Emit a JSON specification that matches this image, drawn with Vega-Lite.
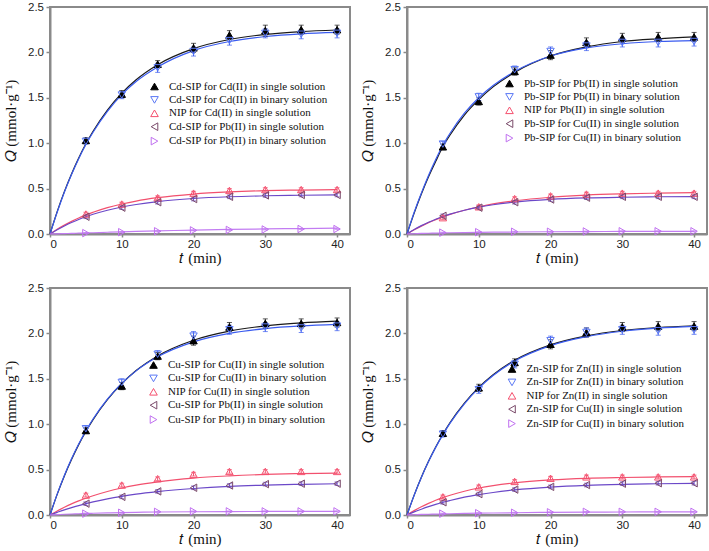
{
"$schema": "https://vega.github.io/schema/vega-lite/v6.json",
"padding": {"left": 2, "top": 0, "right": 2, "bottom": 2},
"background": "white",
"config": {
 "view": {"stroke": "#8a8a8a", "strokeWidth": 2},
 "axis": {"grid": false, "domainColor": "#8a8a8a", "domainWidth": 2, "tickColor": "#8a8a8a", "tickWidth": 1.5, "labelFont": "Liberation Sans", "labelFontSize": 11.5, "labelColor": "#222222", "titleFont": "Liberation Serif", "titleFontSize": 15, "titleFontWeight": "normal", "titleColor": "#111111"},
 "axisX": {"tickSize": 3, "labelPadding": 1.5, "titlePadding": 0},
 "axisY": {"tickSize": 4, "labelPadding": 2.5, "titlePadding": 9},
 "legend": {"padding": 0, "labelFont": "Liberation Serif", "labelFontSize": 11, "labelColor": "#111111", "labelLimit": 0, "rowPadding": 1.4, "symbolSize": 58, "symbolStrokeWidth": 1, "labelOffset": 9}
},
"datasets": {
 "pts": [
  {"p":1,"s":1,"t":5,"q":1.03,"e":0.03},{"p":1,"s":1,"t":10,"q":1.54,"e":0.04},{"p":1,"s":1,"t":15,"q":1.87,"e":0.04},{"p":1,"s":1,"t":20,"q":2.05,"e":0.05},{"p":1,"s":1,"t":25,"q":2.19,"e":0.05},{"p":1,"s":1,"t":30,"q":2.24,"e":0.06},{"p":1,"s":1,"t":35,"q":2.25,"e":0.05},{"p":1,"s":1,"t":40,"q":2.25,"e":0.05},
  {"p":1,"s":2,"t":5,"q":1.02,"e":0.03},{"p":1,"s":2,"t":10,"q":1.53,"e":0.04},{"p":1,"s":2,"t":15,"q":1.83,"e":0.05},{"p":1,"s":2,"t":20,"q":2.01,"e":0.05},{"p":1,"s":2,"t":25,"q":2.13,"e":0.05},{"p":1,"s":2,"t":30,"q":2.21,"e":0.05},{"p":1,"s":2,"t":35,"q":2.2,"e":0.05},{"p":1,"s":2,"t":40,"q":2.21,"e":0.05},
  {"p":1,"s":3,"t":5,"q":0.22,"e":0.02},{"p":1,"s":3,"t":10,"q":0.33,"e":0.02},{"p":1,"s":3,"t":15,"q":0.4,"e":0.02},{"p":1,"s":3,"t":20,"q":0.45,"e":0.02},{"p":1,"s":3,"t":25,"q":0.48,"e":0.02},{"p":1,"s":3,"t":30,"q":0.49,"e":0.02},{"p":1,"s":3,"t":35,"q":0.49,"e":0.02},{"p":1,"s":3,"t":40,"q":0.49,"e":0.02},
  {"p":1,"s":4,"t":5,"q":0.19,"e":0.02},{"p":1,"s":4,"t":10,"q":0.29,"e":0.02},{"p":1,"s":4,"t":15,"q":0.35,"e":0.02},{"p":1,"s":4,"t":20,"q":0.385,"e":0.02},{"p":1,"s":4,"t":25,"q":0.41,"e":0.02},{"p":1,"s":4,"t":30,"q":0.425,"e":0.02},{"p":1,"s":4,"t":35,"q":0.43,"e":0.02},{"p":1,"s":4,"t":40,"q":0.43,"e":0.02},
  {"p":1,"s":5,"t":5,"q":0.01,"e":0.005},{"p":1,"s":5,"t":10,"q":0.02,"e":0.005},{"p":1,"s":5,"t":15,"q":0.03,"e":0.005},{"p":1,"s":5,"t":20,"q":0.04,"e":0.005},{"p":1,"s":5,"t":25,"q":0.045,"e":0.005},{"p":1,"s":5,"t":30,"q":0.05,"e":0.005},{"p":1,"s":5,"t":35,"q":0.055,"e":0.005},{"p":1,"s":5,"t":40,"q":0.055,"e":0.005},
  {"p":2,"s":1,"t":5,"q":0.96,"e":0.03},{"p":2,"s":1,"t":10,"q":1.46,"e":0.04},{"p":2,"s":1,"t":15,"q":1.79,"e":0.04},{"p":2,"s":1,"t":20,"q":1.97,"e":0.05},{"p":2,"s":1,"t":25,"q":2.11,"e":0.05},{"p":2,"s":1,"t":30,"q":2.16,"e":0.05},{"p":2,"s":1,"t":35,"q":2.17,"e":0.05},{"p":2,"s":1,"t":40,"q":2.17,"e":0.05},
  {"p":2,"s":2,"t":5,"q":0.99,"e":0.03},{"p":2,"s":2,"t":10,"q":1.51,"e":0.04},{"p":2,"s":2,"t":15,"q":1.81,"e":0.04},{"p":2,"s":2,"t":20,"q":2.01,"e":0.05},{"p":2,"s":2,"t":25,"q":2.07,"e":0.05},{"p":2,"s":2,"t":30,"q":2.11,"e":0.05},{"p":2,"s":2,"t":35,"q":2.11,"e":0.05},{"p":2,"s":2,"t":40,"q":2.12,"e":0.05},
  {"p":2,"s":3,"t":5,"q":0.18,"e":0.02},{"p":2,"s":3,"t":10,"q":0.3,"e":0.02},{"p":2,"s":3,"t":15,"q":0.39,"e":0.02},{"p":2,"s":3,"t":20,"q":0.42,"e":0.02},{"p":2,"s":3,"t":25,"q":0.44,"e":0.02},{"p":2,"s":3,"t":30,"q":0.45,"e":0.02},{"p":2,"s":3,"t":35,"q":0.45,"e":0.02},{"p":2,"s":3,"t":40,"q":0.45,"e":0.02},
  {"p":2,"s":4,"t":5,"q":0.2,"e":0.02},{"p":2,"s":4,"t":10,"q":0.29,"e":0.02},{"p":2,"s":4,"t":15,"q":0.35,"e":0.02},{"p":2,"s":4,"t":20,"q":0.38,"e":0.02},{"p":2,"s":4,"t":25,"q":0.4,"e":0.02},{"p":2,"s":4,"t":30,"q":0.41,"e":0.02},{"p":2,"s":4,"t":35,"q":0.41,"e":0.02},{"p":2,"s":4,"t":40,"q":0.41,"e":0.02},
  {"p":2,"s":5,"t":5,"q":0.015,"e":0.005},{"p":2,"s":5,"t":10,"q":0.02,"e":0.005},{"p":2,"s":5,"t":15,"q":0.025,"e":0.005},{"p":2,"s":5,"t":20,"q":0.025,"e":0.005},{"p":2,"s":5,"t":25,"q":0.028,"e":0.005},{"p":2,"s":5,"t":30,"q":0.03,"e":0.005},{"p":2,"s":5,"t":35,"q":0.03,"e":0.005},{"p":2,"s":5,"t":40,"q":0.03,"e":0.005},
  {"p":3,"s":1,"t":5,"q":0.93,"e":0.03},{"p":3,"s":1,"t":10,"q":1.42,"e":0.04},{"p":3,"s":1,"t":15,"q":1.75,"e":0.04},{"p":3,"s":1,"t":20,"q":1.92,"e":0.05},{"p":3,"s":1,"t":25,"q":2.07,"e":0.05},{"p":3,"s":1,"t":30,"q":2.11,"e":0.05},{"p":3,"s":1,"t":35,"q":2.11,"e":0.05},{"p":3,"s":1,"t":40,"q":2.12,"e":0.05},
  {"p":3,"s":2,"t":5,"q":0.95,"e":0.03},{"p":3,"s":2,"t":10,"q":1.46,"e":0.04},{"p":3,"s":2,"t":15,"q":1.77,"e":0.04},{"p":3,"s":2,"t":20,"q":1.97,"e":0.05},{"p":3,"s":2,"t":25,"q":2.04,"e":0.05},{"p":3,"s":2,"t":30,"q":2.07,"e":0.05},{"p":3,"s":2,"t":35,"q":2.06,"e":0.05},{"p":3,"s":2,"t":40,"q":2.08,"e":0.05},
  {"p":3,"s":3,"t":5,"q":0.22,"e":0.02},{"p":3,"s":3,"t":10,"q":0.33,"e":0.02},{"p":3,"s":3,"t":15,"q":0.4,"e":0.02},{"p":3,"s":3,"t":20,"q":0.45,"e":0.02},{"p":3,"s":3,"t":25,"q":0.48,"e":0.02},{"p":3,"s":3,"t":30,"q":0.48,"e":0.02},{"p":3,"s":3,"t":35,"q":0.48,"e":0.02},{"p":3,"s":3,"t":40,"q":0.48,"e":0.02},
  {"p":3,"s":4,"t":5,"q":0.125,"e":0.02},{"p":3,"s":4,"t":10,"q":0.2,"e":0.02},{"p":3,"s":4,"t":15,"q":0.26,"e":0.02},{"p":3,"s":4,"t":20,"q":0.3,"e":0.02},{"p":3,"s":4,"t":25,"q":0.325,"e":0.02},{"p":3,"s":4,"t":30,"q":0.34,"e":0.02},{"p":3,"s":4,"t":35,"q":0.345,"e":0.02},{"p":3,"s":4,"t":40,"q":0.345,"e":0.02},
  {"p":3,"s":5,"t":5,"q":0.015,"e":0.005},{"p":3,"s":5,"t":10,"q":0.025,"e":0.005},{"p":3,"s":5,"t":15,"q":0.035,"e":0.005},{"p":3,"s":5,"t":20,"q":0.04,"e":0.005},{"p":3,"s":5,"t":25,"q":0.04,"e":0.005},{"p":3,"s":5,"t":30,"q":0.04,"e":0.005},{"p":3,"s":5,"t":35,"q":0.04,"e":0.005},{"p":3,"s":5,"t":40,"q":0.04,"e":0.005},
  {"p":4,"s":1,"t":5,"q":0.9,"e":0.03},{"p":4,"s":1,"t":10,"q":1.4,"e":0.04},{"p":4,"s":1,"t":15,"q":1.68,"e":0.04},{"p":4,"s":1,"t":20,"q":1.88,"e":0.05},{"p":4,"s":1,"t":25,"q":2.01,"e":0.05},{"p":4,"s":1,"t":30,"q":2.07,"e":0.05},{"p":4,"s":1,"t":35,"q":2.08,"e":0.05},{"p":4,"s":1,"t":40,"q":2.08,"e":0.05},
  {"p":4,"s":2,"t":5,"q":0.89,"e":0.03},{"p":4,"s":2,"t":10,"q":1.38,"e":0.04},{"p":4,"s":2,"t":15,"q":1.66,"e":0.04},{"p":4,"s":2,"t":20,"q":1.92,"e":0.05},{"p":4,"s":2,"t":25,"q":2.01,"e":0.05},{"p":4,"s":2,"t":30,"q":2.04,"e":0.05},{"p":4,"s":2,"t":35,"q":2.03,"e":0.05},{"p":4,"s":2,"t":40,"q":2.04,"e":0.05},
  {"p":4,"s":3,"t":5,"q":0.2,"e":0.02},{"p":4,"s":3,"t":10,"q":0.31,"e":0.02},{"p":4,"s":3,"t":15,"q":0.37,"e":0.02},{"p":4,"s":3,"t":20,"q":0.405,"e":0.02},{"p":4,"s":3,"t":25,"q":0.42,"e":0.02},{"p":4,"s":3,"t":30,"q":0.42,"e":0.02},{"p":4,"s":3,"t":35,"q":0.42,"e":0.02},{"p":4,"s":3,"t":40,"q":0.42,"e":0.02},
  {"p":4,"s":4,"t":5,"q":0.14,"e":0.02},{"p":4,"s":4,"t":10,"q":0.23,"e":0.02},{"p":4,"s":4,"t":15,"q":0.28,"e":0.02},{"p":4,"s":4,"t":20,"q":0.31,"e":0.02},{"p":4,"s":4,"t":25,"q":0.33,"e":0.02},{"p":4,"s":4,"t":30,"q":0.345,"e":0.02},{"p":4,"s":4,"t":35,"q":0.35,"e":0.02},{"p":4,"s":4,"t":40,"q":0.35,"e":0.02},
  {"p":4,"s":5,"t":5,"q":0.015,"e":0.005},{"p":4,"s":5,"t":10,"q":0.02,"e":0.005},{"p":4,"s":5,"t":15,"q":0.025,"e":0.005},{"p":4,"s":5,"t":20,"q":0.03,"e":0.005},{"p":4,"s":5,"t":25,"q":0.035,"e":0.005},{"p":4,"s":5,"t":30,"q":0.035,"e":0.005},{"p":4,"s":5,"t":35,"q":0.035,"e":0.005},{"p":4,"s":5,"t":40,"q":0.035,"e":0.005}
 ],
 "fit": [
  {"p":1,"s":1,"t":0,"q":0},{"p":1,"s":1,"t":1,"q":0.247},{"p":1,"s":1,"t":2,"q":0.467},{"p":1,"s":1,"t":3,"q":0.662},{"p":1,"s":1,"t":4,"q":0.837},{"p":1,"s":1,"t":5,"q":0.993},{"p":1,"s":1,"t":6,"q":1.131},{"p":1,"s":1,"t":8,"q":1.365},{"p":1,"s":1,"t":10,"q":1.551},{"p":1,"s":1,"t":12,"q":1.699},{"p":1,"s":1,"t":15,"q":1.865},{"p":1,"s":1,"t":20,"q":2.042},{"p":1,"s":1,"t":25,"q":2.142},{"p":1,"s":1,"t":30,"q":2.198},{"p":1,"s":1,"t":35,"q":2.229},{"p":1,"s":1,"t":40,"q":2.247},
  {"p":1,"s":2,"t":0,"q":0},{"p":1,"s":2,"t":1,"q":0.24},{"p":1,"s":2,"t":2,"q":0.46},{"p":1,"s":2,"t":3,"q":0.655},{"p":1,"s":2,"t":4,"q":0.83},{"p":1,"s":2,"t":5,"q":0.985},{"p":1,"s":2,"t":6,"q":1.12},{"p":1,"s":2,"t":8,"q":1.35},{"p":1,"s":2,"t":10,"q":1.535},{"p":1,"s":2,"t":12,"q":1.68},{"p":1,"s":2,"t":15,"q":1.84},{"p":1,"s":2,"t":20,"q":2.02},{"p":1,"s":2,"t":25,"q":2.12},{"p":1,"s":2,"t":30,"q":2.175},{"p":1,"s":2,"t":35,"q":2.205},{"p":1,"s":2,"t":40,"q":2.22},
  {"p":1,"s":3,"t":0,"q":0},{"p":1,"s":3,"t":1,"q":0.052},{"p":1,"s":3,"t":2,"q":0.098},{"p":1,"s":3,"t":3,"q":0.139},{"p":1,"s":3,"t":4,"q":0.176},{"p":1,"s":3,"t":5,"q":0.21},{"p":1,"s":3,"t":6,"q":0.239},{"p":1,"s":3,"t":8,"q":0.29},{"p":1,"s":3,"t":10,"q":0.33},{"p":1,"s":3,"t":12,"q":0.363},{"p":1,"s":3,"t":15,"q":0.4},{"p":1,"s":3,"t":20,"q":0.44},{"p":1,"s":3,"t":25,"q":0.463},{"p":1,"s":3,"t":30,"q":0.477},{"p":1,"s":3,"t":35,"q":0.484},{"p":1,"s":3,"t":40,"q":0.489},
  {"p":1,"s":4,"t":0,"q":0},{"p":1,"s":4,"t":1,"q":0.047},{"p":1,"s":4,"t":2,"q":0.089},{"p":1,"s":4,"t":3,"q":0.127},{"p":1,"s":4,"t":4,"q":0.16},{"p":1,"s":4,"t":5,"q":0.19},{"p":1,"s":4,"t":6,"q":0.217},{"p":1,"s":4,"t":8,"q":0.262},{"p":1,"s":4,"t":10,"q":0.297},{"p":1,"s":4,"t":12,"q":0.325},{"p":1,"s":4,"t":15,"q":0.357},{"p":1,"s":4,"t":20,"q":0.391},{"p":1,"s":4,"t":25,"q":0.41},{"p":1,"s":4,"t":30,"q":0.421},{"p":1,"s":4,"t":35,"q":0.427},{"p":1,"s":4,"t":40,"q":0.431},
  {"p":1,"s":5,"t":0,"q":0},{"p":1,"s":5,"t":1,"q":0.002},{"p":1,"s":5,"t":2,"q":0.004},{"p":1,"s":5,"t":3,"q":0.007},{"p":1,"s":5,"t":4,"q":0.009},{"p":1,"s":5,"t":5,"q":0.012},{"p":1,"s":5,"t":6,"q":0.014},{"p":1,"s":5,"t":8,"q":0.019},{"p":1,"s":5,"t":10,"q":0.024},{"p":1,"s":5,"t":12,"q":0.028},{"p":1,"s":5,"t":15,"q":0.034},{"p":1,"s":5,"t":20,"q":0.043},{"p":1,"s":5,"t":25,"q":0.05},{"p":1,"s":5,"t":30,"q":0.056},{"p":1,"s":5,"t":35,"q":0.06},{"p":1,"s":5,"t":40,"q":0.064},
  {"p":2,"s":1,"t":0,"q":0},{"p":2,"s":1,"t":1,"q":0.23},{"p":2,"s":1,"t":2,"q":0.44},{"p":2,"s":1,"t":3,"q":0.63},{"p":2,"s":1,"t":4,"q":0.8},{"p":2,"s":1,"t":5,"q":0.96},{"p":2,"s":1,"t":6,"q":1.09},{"p":2,"s":1,"t":8,"q":1.31},{"p":2,"s":1,"t":10,"q":1.48},{"p":2,"s":1,"t":12,"q":1.62},{"p":2,"s":1,"t":15,"q":1.78},{"p":2,"s":1,"t":20,"q":1.96},{"p":2,"s":1,"t":25,"q":2.06},{"p":2,"s":1,"t":30,"q":2.12},{"p":2,"s":1,"t":35,"q":2.15},{"p":2,"s":1,"t":40,"q":2.17},
  {"p":2,"s":2,"t":0,"q":0},{"p":2,"s":2,"t":1,"q":0.24},{"p":2,"s":2,"t":2,"q":0.45},{"p":2,"s":2,"t":3,"q":0.645},{"p":2,"s":2,"t":4,"q":0.82},{"p":2,"s":2,"t":5,"q":0.98},{"p":2,"s":2,"t":6,"q":1.11},{"p":2,"s":2,"t":8,"q":1.33},{"p":2,"s":2,"t":10,"q":1.5},{"p":2,"s":2,"t":12,"q":1.635},{"p":2,"s":2,"t":15,"q":1.79},{"p":2,"s":2,"t":20,"q":1.96},{"p":2,"s":2,"t":25,"q":2.05},{"p":2,"s":2,"t":30,"q":2.095},{"p":2,"s":2,"t":35,"q":2.12},{"p":2,"s":2,"t":40,"q":2.13},
  {"p":2,"s":3,"t":0,"q":0},{"p":2,"s":3,"t":1,"q":0.046},{"p":2,"s":3,"t":2,"q":0.087},{"p":2,"s":3,"t":3,"q":0.125},{"p":2,"s":3,"t":4,"q":0.158},{"p":2,"s":3,"t":5,"q":0.189},{"p":2,"s":3,"t":6,"q":0.216},{"p":2,"s":3,"t":8,"q":0.262},{"p":2,"s":3,"t":10,"q":0.3},{"p":2,"s":3,"t":12,"q":0.331},{"p":2,"s":3,"t":15,"q":0.366},{"p":2,"s":3,"t":20,"q":0.405},{"p":2,"s":3,"t":25,"q":0.429},{"p":2,"s":3,"t":30,"q":0.442},{"p":2,"s":3,"t":35,"q":0.45},{"p":2,"s":3,"t":40,"q":0.455},
  {"p":2,"s":4,"t":0,"q":0},{"p":2,"s":4,"t":1,"q":0.049},{"p":2,"s":4,"t":2,"q":0.092},{"p":2,"s":4,"t":3,"q":0.13},{"p":2,"s":4,"t":4,"q":0.163},{"p":2,"s":4,"t":5,"q":0.193},{"p":2,"s":4,"t":6,"q":0.219},{"p":2,"s":4,"t":8,"q":0.262},{"p":2,"s":4,"t":10,"q":0.296},{"p":2,"s":4,"t":12,"q":0.322},{"p":2,"s":4,"t":15,"q":0.351},{"p":2,"s":4,"t":20,"q":0.381},{"p":2,"s":4,"t":25,"q":0.397},{"p":2,"s":4,"t":30,"q":0.405},{"p":2,"s":4,"t":35,"q":0.41},{"p":2,"s":4,"t":40,"q":0.412},
  {"p":2,"s":5,"t":0,"q":0},{"p":2,"s":5,"t":1,"q":0.003},{"p":2,"s":5,"t":2,"q":0.006},{"p":2,"s":5,"t":3,"q":0.008},{"p":2,"s":5,"t":4,"q":0.01},{"p":2,"s":5,"t":5,"q":0.012},{"p":2,"s":5,"t":6,"q":0.014},{"p":2,"s":5,"t":8,"q":0.016},{"p":2,"s":5,"t":10,"q":0.018},{"p":2,"s":5,"t":12,"q":0.02},{"p":2,"s":5,"t":15,"q":0.022},{"p":2,"s":5,"t":20,"q":0.025},{"p":2,"s":5,"t":25,"q":0.027},{"p":2,"s":5,"t":30,"q":0.028},{"p":2,"s":5,"t":35,"q":0.029},{"p":2,"s":5,"t":40,"q":0.03},
  {"p":3,"s":1,"t":0,"q":0},{"p":3,"s":1,"t":1,"q":0.227},{"p":3,"s":1,"t":2,"q":0.43},{"p":3,"s":1,"t":3,"q":0.611},{"p":3,"s":1,"t":4,"q":0.775},{"p":3,"s":1,"t":5,"q":0.92},{"p":3,"s":1,"t":6,"q":1.05},{"p":3,"s":1,"t":8,"q":1.271},{"p":3,"s":1,"t":10,"q":1.448},{"p":3,"s":1,"t":12,"q":1.591},{"p":3,"s":1,"t":15,"q":1.752},{"p":3,"s":1,"t":20,"q":1.925},{"p":3,"s":1,"t":25,"q":2.025},{"p":3,"s":1,"t":30,"q":2.083},{"p":3,"s":1,"t":35,"q":2.116},{"p":3,"s":1,"t":40,"q":2.135},
  {"p":3,"s":2,"t":0,"q":0},{"p":3,"s":2,"t":1,"q":0.23},{"p":3,"s":2,"t":2,"q":0.436},{"p":3,"s":2,"t":3,"q":0.619},{"p":3,"s":2,"t":4,"q":0.782},{"p":3,"s":2,"t":5,"q":0.927},{"p":3,"s":2,"t":6,"q":1.057},{"p":3,"s":2,"t":8,"q":1.275},{"p":3,"s":2,"t":10,"q":1.449},{"p":3,"s":2,"t":12,"q":1.587},{"p":3,"s":2,"t":15,"q":1.742},{"p":3,"s":2,"t":20,"q":1.907},{"p":3,"s":2,"t":25,"q":2.0},{"p":3,"s":2,"t":30,"q":2.053},{"p":3,"s":2,"t":35,"q":2.082},{"p":3,"s":2,"t":40,"q":2.099},
  {"p":3,"s":3,"t":0,"q":0},{"p":3,"s":3,"t":1,"q":0.045},{"p":3,"s":3,"t":2,"q":0.085},{"p":3,"s":3,"t":3,"q":0.122},{"p":3,"s":3,"t":4,"q":0.155},{"p":3,"s":3,"t":5,"q":0.185},{"p":3,"s":3,"t":6,"q":0.212},{"p":3,"s":3,"t":8,"q":0.259},{"p":3,"s":3,"t":10,"q":0.297},{"p":3,"s":3,"t":12,"q":0.329},{"p":3,"s":3,"t":15,"q":0.365},{"p":3,"s":3,"t":20,"q":0.407},{"p":3,"s":3,"t":25,"q":0.431},{"p":3,"s":3,"t":30,"q":0.447},{"p":3,"s":3,"t":35,"q":0.456},{"p":3,"s":3,"t":40,"q":0.461},
  {"p":3,"s":4,"t":0,"q":0},{"p":3,"s":4,"t":1,"q":0.029},{"p":3,"s":4,"t":2,"q":0.057},{"p":3,"s":4,"t":3,"q":0.081},{"p":3,"s":4,"t":4,"q":0.104},{"p":3,"s":4,"t":5,"q":0.125},{"p":3,"s":4,"t":6,"q":0.144},{"p":3,"s":4,"t":8,"q":0.178},{"p":3,"s":4,"t":10,"q":0.206},{"p":3,"s":4,"t":12,"q":0.23},{"p":3,"s":4,"t":15,"q":0.258},{"p":3,"s":4,"t":20,"q":0.292},{"p":3,"s":4,"t":25,"q":0.315},{"p":3,"s":4,"t":30,"q":0.329},{"p":3,"s":4,"t":35,"q":0.338},{"p":3,"s":4,"t":40,"q":0.344},
  {"p":3,"s":5,"t":0,"q":0},{"p":3,"s":5,"t":1,"q":0.004},{"p":3,"s":5,"t":2,"q":0.008},{"p":3,"s":5,"t":3,"q":0.011},{"p":3,"s":5,"t":4,"q":0.014},{"p":3,"s":5,"t":5,"q":0.017},{"p":3,"s":5,"t":6,"q":0.019},{"p":3,"s":5,"t":8,"q":0.023},{"p":3,"s":5,"t":10,"q":0.027},{"p":3,"s":5,"t":12,"q":0.03},{"p":3,"s":5,"t":15,"q":0.033},{"p":3,"s":5,"t":20,"q":0.036},{"p":3,"s":5,"t":25,"q":0.038},{"p":3,"s":5,"t":30,"q":0.039},{"p":3,"s":5,"t":35,"q":0.04},{"p":3,"s":5,"t":40,"q":0.04},
  {"p":4,"s":1,"t":0,"q":0},{"p":4,"s":1,"t":1,"q":0.219},{"p":4,"s":1,"t":2,"q":0.416},{"p":4,"s":1,"t":3,"q":0.591},{"p":4,"s":1,"t":4,"q":0.749},{"p":4,"s":1,"t":5,"q":0.89},{"p":4,"s":1,"t":6,"q":1.017},{"p":4,"s":1,"t":8,"q":1.232},{"p":4,"s":1,"t":10,"q":1.405},{"p":4,"s":1,"t":12,"q":1.544},{"p":4,"s":1,"t":15,"q":1.704},{"p":4,"s":1,"t":20,"q":1.874},{"p":4,"s":1,"t":25,"q":1.973},{"p":4,"s":1,"t":30,"q":2.032},{"p":4,"s":1,"t":35,"q":2.065},{"p":4,"s":1,"t":40,"q":2.084},
  {"p":4,"s":2,"t":0,"q":0},{"p":4,"s":2,"t":1,"q":0.218},{"p":4,"s":2,"t":2,"q":0.413},{"p":4,"s":2,"t":3,"q":0.588},{"p":4,"s":2,"t":4,"q":0.745},{"p":4,"s":2,"t":5,"q":0.885},{"p":4,"s":2,"t":6,"q":1.011},{"p":4,"s":2,"t":8,"q":1.225},{"p":4,"s":2,"t":10,"q":1.397},{"p":4,"s":2,"t":12,"q":1.536},{"p":4,"s":2,"t":15,"q":1.696},{"p":4,"s":2,"t":20,"q":1.866},{"p":4,"s":2,"t":25,"q":1.965},{"p":4,"s":2,"t":30,"q":2.024},{"p":4,"s":2,"t":35,"q":2.058},{"p":4,"s":2,"t":40,"q":2.077},
  {"p":4,"s":3,"t":0,"q":0},{"p":4,"s":3,"t":1,"q":0.048},{"p":4,"s":3,"t":2,"q":0.091},{"p":4,"s":3,"t":3,"q":0.128},{"p":4,"s":3,"t":4,"q":0.162},{"p":4,"s":3,"t":5,"q":0.192},{"p":4,"s":3,"t":6,"q":0.218},{"p":4,"s":3,"t":8,"q":0.262},{"p":4,"s":3,"t":10,"q":0.297},{"p":4,"s":3,"t":12,"q":0.324},{"p":4,"s":3,"t":15,"q":0.355},{"p":4,"s":3,"t":20,"q":0.386},{"p":4,"s":3,"t":25,"q":0.404},{"p":4,"s":3,"t":30,"q":0.413},{"p":4,"s":3,"t":35,"q":0.419},{"p":4,"s":3,"t":40,"q":0.422},
  {"p":4,"s":4,"t":0,"q":0},{"p":4,"s":4,"t":1,"q":0.034},{"p":4,"s":4,"t":2,"q":0.064},{"p":4,"s":4,"t":3,"q":0.092},{"p":4,"s":4,"t":4,"q":0.117},{"p":4,"s":4,"t":5,"q":0.14},{"p":4,"s":4,"t":6,"q":0.16},{"p":4,"s":4,"t":8,"q":0.196},{"p":4,"s":4,"t":10,"q":0.224},{"p":4,"s":4,"t":12,"q":0.248},{"p":4,"s":4,"t":15,"q":0.276},{"p":4,"s":4,"t":20,"q":0.307},{"p":4,"s":4,"t":25,"q":0.326},{"p":4,"s":4,"t":30,"q":0.337},{"p":4,"s":4,"t":35,"q":0.344},{"p":4,"s":4,"t":40,"q":0.349},
  {"p":4,"s":5,"t":0,"q":0},{"p":4,"s":5,"t":1,"q":0.003},{"p":4,"s":5,"t":2,"q":0.006},{"p":4,"s":5,"t":3,"q":0.008},{"p":4,"s":5,"t":4,"q":0.01},{"p":4,"s":5,"t":5,"q":0.012},{"p":4,"s":5,"t":6,"q":0.014},{"p":4,"s":5,"t":8,"q":0.017},{"p":4,"s":5,"t":10,"q":0.02},{"p":4,"s":5,"t":12,"q":0.022},{"p":4,"s":5,"t":15,"q":0.025},{"p":4,"s":5,"t":20,"q":0.029},{"p":4,"s":5,"t":25,"q":0.031},{"p":4,"s":5,"t":30,"q":0.033},{"p":4,"s":5,"t":35,"q":0.034},{"p":4,"s":5,"t":40,"q":0.035}
 ]
},
"columns": 2,
"spacing": {"row": 54, "column": 57},
"bounds": "flush",
"resolve": {"scale": {"color": "independent", "stroke": "independent", "fill": "independent", "shape": "independent"}, "legend": {"color": "independent", "stroke": "independent", "fill": "independent", "shape": "independent"}},
"concat": [
 {"width": 300, "height": 227,
  "encoding": {
   "x": {"field": "t", "type": "quantitative", "scale": {"domain": [0, 41.8], "nice": false, "zero": false}, "axis": {"values": [0,10,20,30,40], "title": "𝑡 (min)"}},
   "y": {"field": "q", "type": "quantitative", "scale": {"domain": [0, 2.5], "nice": false}, "axis": {"values": [0,0.5,1,1.5,2,2.5], "format": ".1f", "title": "𝑄 (mmol·g⁻¹)"}}
  },
  "layer": [
   {"data": {"name": "fit"}, "transform": [{"filter": "datum.p == 1"}], "mark": {"type": "line", "interpolate": "monotone", "strokeWidth": 1.2}, "encoding": {"color": {"field": "s", "type": "nominal", "scale": {"range": ["#1a1a1a","#3a5bef","#f2506e","#6b48c8","#c27cf2"]}, "legend": null}}},
   {"data": {"name": "pts"}, "transform": [{"filter": "datum.p == 1"}], "mark": {"type": "errorbar", "ticks": true, "thickness": 1}, "encoding": {"yError": {"field": "e"}, "color": {"field": "s", "type": "nominal", "scale": {"range": ["#1a1a1a","#3a5bef","#f2506e","#6b48c8","#c27cf2"]}, "legend": null}}},
   {"data": {"name": "pts"}, "transform": [{"filter": "datum.p == 1"}], "mark": {"type": "point", "size": 55, "strokeWidth": 1, "opacity": 1},
    "encoding": {
     "shape": {"field": "s", "type": "nominal", "scale": {"domain": [1,2,3,4,5], "range": ["triangle-up","triangle-down","triangle-up","triangle-left","triangle-right"]}, "legend": {"title": null, "orient": "none", "legendX": 99, "legendY": 74, "labelExpr": "['Cd-SIP for Cd(II) in single solution','Cd-SIP for Cd(II) in binary solution','NIP for Cd(II) in single solution','Cd-SIP for Pb(II) in single solution','Cd-SIP for Pb(II) in binary solution'][+datum.value - 1]"}},
     "stroke": {"field": "s", "type": "nominal", "scale": {"domain": [1,2,3,4,5], "range": ["#000000","#5a78f5","#f5506e","#7a4a6a","#c070f0"]}, "legend": {"title": null, "orient": "none", "legendX": 99, "legendY": 74, "labelExpr": "['Cd-SIP for Cd(II) in single solution','Cd-SIP for Cd(II) in binary solution','NIP for Cd(II) in single solution','Cd-SIP for Pb(II) in single solution','Cd-SIP for Pb(II) in binary solution'][+datum.value - 1]"}},
     "fill": {"field": "s", "type": "nominal", "scale": {"domain": [1,2,3,4,5], "range": ["#000000","transparent","transparent","transparent","transparent"]}, "legend": {"title": null, "orient": "none", "legendX": 99, "legendY": 74, "labelExpr": "['Cd-SIP for Cd(II) in single solution','Cd-SIP for Cd(II) in binary solution','NIP for Cd(II) in single solution','Cd-SIP for Pb(II) in single solution','Cd-SIP for Pb(II) in binary solution'][+datum.value - 1]"}}
    }}
  ]},
 {"width": 300, "height": 227,
  "encoding": {
   "x": {"field": "t", "type": "quantitative", "scale": {"domain": [0, 41.8], "nice": false, "zero": false}, "axis": {"values": [0,10,20,30,40], "title": "𝑡 (min)"}},
   "y": {"field": "q", "type": "quantitative", "scale": {"domain": [0, 2.5], "nice": false}, "axis": {"values": [0,0.5,1,1.5,2,2.5], "format": ".1f", "title": "𝑄 (mmol·g⁻¹)"}}
  },
  "layer": [
   {"data": {"name": "fit"}, "transform": [{"filter": "datum.p == 2"}], "mark": {"type": "line", "interpolate": "monotone", "strokeWidth": 1.2}, "encoding": {"color": {"field": "s", "type": "nominal", "scale": {"range": ["#1a1a1a","#3a5bef","#f2506e","#6b48c8","#c27cf2"]}, "legend": null}}},
   {"data": {"name": "pts"}, "transform": [{"filter": "datum.p == 2"}], "mark": {"type": "errorbar", "ticks": true, "thickness": 1}, "encoding": {"yError": {"field": "e"}, "color": {"field": "s", "type": "nominal", "scale": {"range": ["#1a1a1a","#3a5bef","#f2506e","#6b48c8","#c27cf2"]}, "legend": null}}},
   {"data": {"name": "pts"}, "transform": [{"filter": "datum.p == 2"}], "mark": {"type": "point", "size": 55, "strokeWidth": 1, "opacity": 1},
    "encoding": {
     "shape": {"field": "s", "type": "nominal", "scale": {"domain": [1,2,3,4,5], "range": ["triangle-up","triangle-down","triangle-up","triangle-left","triangle-right"]}, "legend": {"title": null, "orient": "none", "legendX": 97, "legendY": 71, "labelExpr": "['Pb-SIP for Pb(II) in single solution','Pb-SIP for Pb(II) in binary solution','NIP for Pb(II) in single solution','Pb-SIP for Cu(II) in single solution','Pb-SIP for Cu(II) in binary solution'][+datum.value - 1]"}},
     "stroke": {"field": "s", "type": "nominal", "scale": {"domain": [1,2,3,4,5], "range": ["#000000","#5a78f5","#f5506e","#7a4a6a","#c070f0"]}, "legend": {"title": null, "orient": "none", "legendX": 97, "legendY": 71, "labelExpr": "['Pb-SIP for Pb(II) in single solution','Pb-SIP for Pb(II) in binary solution','NIP for Pb(II) in single solution','Pb-SIP for Cu(II) in single solution','Pb-SIP for Cu(II) in binary solution'][+datum.value - 1]"}},
     "fill": {"field": "s", "type": "nominal", "scale": {"domain": [1,2,3,4,5], "range": ["#000000","transparent","transparent","transparent","transparent"]}, "legend": {"title": null, "orient": "none", "legendX": 97, "legendY": 71, "labelExpr": "['Pb-SIP for Pb(II) in single solution','Pb-SIP for Pb(II) in binary solution','NIP for Pb(II) in single solution','Pb-SIP for Cu(II) in single solution','Pb-SIP for Cu(II) in binary solution'][+datum.value - 1]"}}
    }}
  ]},
 {"width": 300, "height": 227,
  "encoding": {
   "x": {"field": "t", "type": "quantitative", "scale": {"domain": [0, 41.8], "nice": false, "zero": false}, "axis": {"values": [0,10,20,30,40], "title": "𝑡 (min)"}},
   "y": {"field": "q", "type": "quantitative", "scale": {"domain": [0, 2.5], "nice": false}, "axis": {"values": [0,0.5,1,1.5,2,2.5], "format": ".1f", "title": "𝑄 (mmol·g⁻¹)"}}
  },
  "layer": [
   {"data": {"name": "fit"}, "transform": [{"filter": "datum.p == 3"}], "mark": {"type": "line", "interpolate": "monotone", "strokeWidth": 1.2}, "encoding": {"color": {"field": "s", "type": "nominal", "scale": {"range": ["#1a1a1a","#3a5bef","#f2506e","#6b48c8","#c27cf2"]}, "legend": null}}},
   {"data": {"name": "pts"}, "transform": [{"filter": "datum.p == 3"}], "mark": {"type": "errorbar", "ticks": true, "thickness": 1}, "encoding": {"yError": {"field": "e"}, "color": {"field": "s", "type": "nominal", "scale": {"range": ["#1a1a1a","#3a5bef","#f2506e","#6b48c8","#c27cf2"]}, "legend": null}}},
   {"data": {"name": "pts"}, "transform": [{"filter": "datum.p == 3"}], "mark": {"type": "point", "size": 55, "strokeWidth": 1, "opacity": 1},
    "encoding": {
     "shape": {"field": "s", "type": "nominal", "scale": {"domain": [1,2,3,4,5], "range": ["triangle-up","triangle-down","triangle-up","triangle-left","triangle-right"]}, "legend": {"title": null, "orient": "none", "legendX": 98, "legendY": 71.5, "labelExpr": "['Cu-SIP for Cu(II) in single solution','Cu-SIP for Cu(II) in binary solution','NIP for Cu(II) in single solution','Cu-SIP for Pb(II) in single solution','Cu-SIP for Pb(II) in binary solution'][+datum.value - 1]"}},
     "stroke": {"field": "s", "type": "nominal", "scale": {"domain": [1,2,3,4,5], "range": ["#000000","#5a78f5","#f5506e","#7a4a6a","#c070f0"]}, "legend": {"title": null, "orient": "none", "legendX": 98, "legendY": 71.5, "labelExpr": "['Cu-SIP for Cu(II) in single solution','Cu-SIP for Cu(II) in binary solution','NIP for Cu(II) in single solution','Cu-SIP for Pb(II) in single solution','Cu-SIP for Pb(II) in binary solution'][+datum.value - 1]"}},
     "fill": {"field": "s", "type": "nominal", "scale": {"domain": [1,2,3,4,5], "range": ["#000000","transparent","transparent","transparent","transparent"]}, "legend": {"title": null, "orient": "none", "legendX": 98, "legendY": 71.5, "labelExpr": "['Cu-SIP for Cu(II) in single solution','Cu-SIP for Cu(II) in binary solution','NIP for Cu(II) in single solution','Cu-SIP for Pb(II) in single solution','Cu-SIP for Pb(II) in binary solution'][+datum.value - 1]"}}
    }}
  ]},
 {"width": 300, "height": 227,
  "encoding": {
   "x": {"field": "t", "type": "quantitative", "scale": {"domain": [0, 41.8], "nice": false, "zero": false}, "axis": {"values": [0,10,20,30,40], "title": "𝑡 (min)"}},
   "y": {"field": "q", "type": "quantitative", "scale": {"domain": [0, 2.5], "nice": false}, "axis": {"values": [0,0.5,1,1.5,2,2.5], "format": ".1f", "title": "𝑄 (mmol·g⁻¹)"}}
  },
  "layer": [
   {"data": {"name": "fit"}, "transform": [{"filter": "datum.p == 4"}], "mark": {"type": "line", "interpolate": "monotone", "strokeWidth": 1.2}, "encoding": {"color": {"field": "s", "type": "nominal", "scale": {"range": ["#1a1a1a","#3a5bef","#f2506e","#6b48c8","#c27cf2"]}, "legend": null}}},
   {"data": {"name": "pts"}, "transform": [{"filter": "datum.p == 4"}], "mark": {"type": "errorbar", "ticks": true, "thickness": 1}, "encoding": {"yError": {"field": "e"}, "color": {"field": "s", "type": "nominal", "scale": {"range": ["#1a1a1a","#3a5bef","#f2506e","#6b48c8","#c27cf2"]}, "legend": null}}},
   {"data": {"name": "pts"}, "transform": [{"filter": "datum.p == 4"}], "mark": {"type": "point", "size": 55, "strokeWidth": 1, "opacity": 1},
    "encoding": {
     "shape": {"field": "s", "type": "nominal", "scale": {"domain": [1,2,3,4,5], "range": ["triangle-up","triangle-down","triangle-up","triangle-left","triangle-right"]}, "legend": {"title": null, "orient": "none", "legendX": 99.5, "legendY": 75.5, "labelExpr": "['Zn-SIP for Zn(II) in single solution','Zn-SIP for Zn(II) in binary solution','NIP for Zn(II) in single solution','Zn-SIP for Cu(II) in single solution','Zn-SIP for Cu(II) in binary solution'][+datum.value - 1]"}},
     "stroke": {"field": "s", "type": "nominal", "scale": {"domain": [1,2,3,4,5], "range": ["#000000","#5a78f5","#f5506e","#7a4a6a","#c070f0"]}, "legend": {"title": null, "orient": "none", "legendX": 99.5, "legendY": 75.5, "labelExpr": "['Zn-SIP for Zn(II) in single solution','Zn-SIP for Zn(II) in binary solution','NIP for Zn(II) in single solution','Zn-SIP for Cu(II) in single solution','Zn-SIP for Cu(II) in binary solution'][+datum.value - 1]"}},
     "fill": {"field": "s", "type": "nominal", "scale": {"domain": [1,2,3,4,5], "range": ["#000000","transparent","transparent","transparent","transparent"]}, "legend": {"title": null, "orient": "none", "legendX": 99.5, "legendY": 75.5, "labelExpr": "['Zn-SIP for Zn(II) in single solution','Zn-SIP for Zn(II) in binary solution','NIP for Zn(II) in single solution','Zn-SIP for Cu(II) in single solution','Zn-SIP for Cu(II) in binary solution'][+datum.value - 1]"}}
    }}
  ]}
]
}
